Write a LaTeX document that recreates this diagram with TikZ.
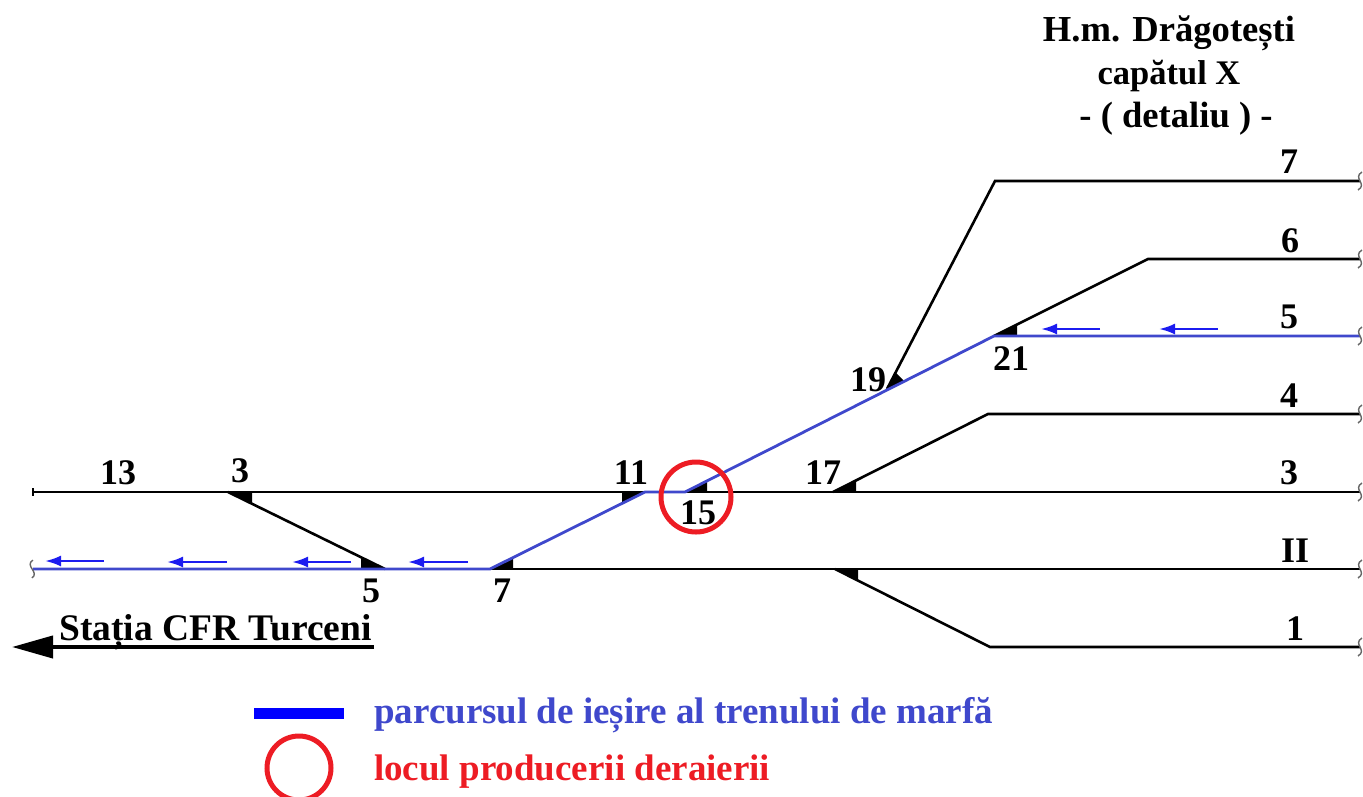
\documentclass[tikz,border=0pt]{standalone}
\usepackage{fontspec}
\setmainfont{Liberation Serif}
\definecolor{route}{HTML}{3F48CC}
\definecolor{arrowblue}{HTML}{1C1CF0}
\definecolor{derail}{HTML}{ED1C24}
\tikzset{
  track/.style={line width=2.6pt,black},
  routeline/.style={line width=2.8pt,route,line join=round},
  tongue/.style={fill=black,draw=none},
  dirarrow/.style={line width=2.4pt,arrowblue,-{Latex[length=16pt,width=11pt]}},
  lab/.style={font=\fontsize{36}{36}\bfseries\selectfont,anchor=base,inner sep=0pt},
  titlelab/.style={font=\fontsize{36.6}{36.6}\bfseries\selectfont,anchor=base,inner sep=0pt},
  legendlab/.style={font=\fontsize{37}{37}\bfseries\selectfont,anchor=base west,inner sep=0pt},
  endmark/.style={line width=1.4pt,black!60},
  ringmark/.style={draw=derail,line width=5pt},
}
\usetikzlibrary{arrows.meta}
\begin{document}
\begin{tikzpicture}[x=1pt,y=-1pt]
\useasboundingbox (0,0) rectangle (1363,796);

% junctions
\coordinate (w3) at (228,492);
\coordinate (w5) at (385,569);
\coordinate (w7) at (490,569);
\coordinate (w11) at (645,492);
\coordinate (w15) at (685,492);
\coordinate (w17) at (833,492);
\coordinate (w19) at (887,389);
\coordinate (w21) at (994,336);
\coordinate (w1) at (835,569);
\coordinate (k7) at (995,181);
\coordinate (k6) at (1148,259);
\coordinate (k4) at (988,414);
\coordinate (k1) at (990,647);
\coordinate (s3) at (33,492);
\coordinate (s2) at (33,569);
\coordinate (e7) at (1360,181);
\coordinate (e6) at (1360,259);
\coordinate (e5) at (1360,336);
\coordinate (e4) at (1360,414);
\coordinate (e3) at (1360,492);
\coordinate (e2) at (1360,569);
\coordinate (e1) at (1360,647);

% tracks
\draw[track] (s3) -- (e3);
\draw[track] (s2) -- (e2);
\draw[track] (w3) -- (w5);
\draw[track] (w19) -- (k7) -- (e7);
\draw[track] (w21) -- (k6) -- (e6);
\draw[track] (w17) -- (k4) -- (e4);
\draw[track] (w1) -- (k1) -- (e1);
\draw[line width=1.5pt] (33,488) -- (33,496);

% switch tongues
\fill[tongue] (w3) -- (252,492) -- (252,503) -- cycle;
\fill[tongue] (383,569) -- (361,569) -- (361,558) -- cycle;
\fill[tongue] (w7) -- (513,569) -- (513,558) -- cycle;
\fill[tongue] (w11) -- (622,492) -- (622,503) -- cycle;
\fill[tongue] (w15) -- (707,492) -- (707,481) -- cycle;
\fill[tongue] (w17) -- (856,492) -- (856,481) -- cycle;
\fill[tongue] (w1) -- (858,569) -- (858,580) -- cycle;
\fill[tongue] (w19) -- (904,381) -- (895,372) -- cycle;
\fill[tongue] (w21) -- (1017,336) -- (1017,325) -- cycle;

% route of the train
\draw[routeline] (e5) -- (w21) -- (w15) -- (w11) -- (w7) -- (s2);

% line ends
\foreach \y in {181,259,336,414,492,569,647}
  \draw[endmark] (1362,\y-9) .. controls (1352,\y-3) and (1368,\y+3) .. (1358,\y+9);
\draw[endmark] (33,560) .. controls (24,566) and (40,572) .. (32,578);

% direction arrows
\foreach \xa/\xb/\y in {104/45/561,227/167/562,351/292/562,468/408/562,1100/1041/329,1218/1159/329}
  \draw[dirarrow] (\xa,\y) -- (\xb,\y);

% numbers
\node[lab] (n13) at (118,484) {13};
\node[lab] (n3) at (240,482) {3};
\node[lab] (n5) at (371,602) {5};
\node[lab] (n7) at (502,602) {7};
\node[lab] (n11) at (631,484) {11};
\node[lab] (n15) at (698,524) {15};
\node[lab] (n17) at (823,484) {17};
\node[lab] (n19) at (868,391) {19};
\node[lab] (n21) at (1011,370) {21};
\node[lab] (t7) at (1289,173) {7};
\node[lab] (t6) at (1290,252) {6};
\node[lab] (t5) at (1289,328) {5};
\node[lab] (t4) at (1289,407) {4};
\node[lab] (t3) at (1289,484) {3};
\node[lab] (t2) at (1295,562) {II};
\node[lab] (t1) at (1295,640) {1};

% place of the derailment
\node[ringmark,circle,minimum size=70pt,inner sep=0pt] (ring) at (696,497) {};

% title
\node[titlelab] (title1) at (1169,41) {H.m. Drăgotești};
\node[titlelab,font=\fontsize{34.5}{34.5}\bfseries\selectfont] (title2) at (1169,84) {capătul X};
\node[titlelab] (title3) at (1176,127) {- ( detaliu ) -};

% direction to the station
\node[legendlab,font=\fontsize{37.5}{37.5}\bfseries\selectfont] (station) at (59,640) {Stația CFR Turceni};
\coordinate (a1) at (374,647);
\coordinate (a2) at (12,647);
\draw[line width=4pt,-{Triangle[length=41pt,width=22pt]}] (a1) -- (a2);

% legend
\coordinate (b1) at (254,713);
\coordinate (b2) at (344,713);
\draw[line width=11pt,blue] (b1) -- (b2);
\node[ringmark,circle,minimum size=64pt,inner sep=0pt] (ringkey) at (299,768) {};
\node[legendlab,text=route] (key1) at (374,723) {parcursul de ieșire al trenului de marfă};
\node[legendlab,text=derail] (key2) at (374,780) {locul producerii deraierii};
\end{tikzpicture}
\end{document}
